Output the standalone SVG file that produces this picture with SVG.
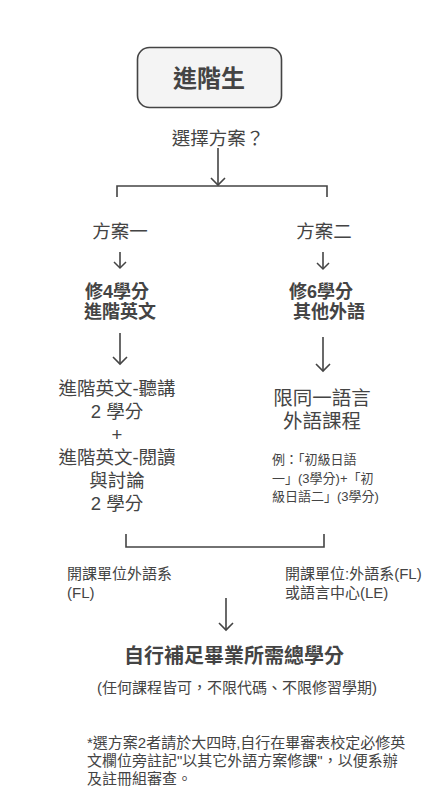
<svg xmlns="http://www.w3.org/2000/svg" width="438" height="797" viewBox="0 0 438 797">
<style>
text{font-family:"Liberation Sans","Noto Sans CJK TC","Noto Sans CJK SC",sans-serif;fill:#444;}
.c{text-anchor:middle;}
.b{font-weight:bold;}
.ln{stroke:#444;stroke-width:1.6;fill:none;}
</style>
<defs>
<marker id="ah" markerUnits="userSpaceOnUse" viewBox="-10 -10 20 20" refX="0" refY="0" markerWidth="20" markerHeight="20" orient="auto" overflow="visible">
<path d="M-7,-7 L0,0 L-7,7" fill="none" stroke="#444" stroke-width="1.6"/>
</marker>
<marker id="ahs" markerUnits="userSpaceOnUse" viewBox="-10 -10 20 20" refX="0" refY="0" markerWidth="20" markerHeight="20" orient="auto" overflow="visible">
<path d="M-6,-6 L0,0 L-6,6" fill="none" stroke="#444" stroke-width="1.5"/>
</marker>
</defs>
<rect width="438" height="797" fill="#fff"/>
<g id="connectors">
<line class="ln" x1="218" y1="148" x2="218" y2="185" marker-end="url(#ah)"/>
<path class="ln" d="M117,197 V186 H327 V197"/>
<line class="ln" x1="120" y1="252" x2="120" y2="268" marker-end="url(#ahs)"/>
<line class="ln" x1="323" y1="252" x2="323" y2="269" marker-end="url(#ahs)"/>
<line class="ln" x1="120" y1="333" x2="120" y2="364" marker-end="url(#ah)"/>
<line class="ln" x1="323" y1="337" x2="323" y2="371" marker-end="url(#ah)"/>
<path class="ln" d="M126,534 V547 H324 V534"/>
<line class="ln" x1="226" y1="598" x2="226" y2="630" marker-end="url(#ah)"/>
</g>
<g id="start">
<rect x="137.5" y="47.5" width="144" height="60" rx="12" fill="#f4f4f4" stroke="#444" stroke-width="1.6"/>
<text class="c b" x="209" y="87" font-size="24">進階生</text>
</g>
<g id="choose"><text class="c" x="218" y="144.5" font-size="18.5">選擇方案？</text></g>
<g id="plan1"><text class="c" x="120" y="238" font-size="18.5">方案一</text></g>
<g id="plan2"><text class="c" x="324" y="238" font-size="18.5">方案二</text></g>
<g id="plan1-req">
<text class="c b" font-size="18"><tspan x="117" y="297.5">修4學分</tspan><tspan x="120" y="318">進階英文</tspan></text>
</g>
<g id="plan2-req">
<text class="c b" font-size="18"><tspan x="321" y="297.5">修6學分</tspan><tspan x="329" y="318">其他外語</tspan></text>
</g>
<g id="plan1-courses">
<text class="c" font-size="18.5"><tspan x="117" y="395">進階英文-聽講</tspan><tspan x="117" y="418">2 學分</tspan><tspan x="117" y="441">+</tspan><tspan x="117" y="464">進階英文-閱讀</tspan><tspan x="117" y="487">與討論</tspan><tspan x="117" y="510">2 學分</tspan></text>
</g>
<g id="plan2-courses">
<text class="c" font-size="19.5"><tspan x="322" y="405">限同一語言</tspan><tspan x="322" y="428">外語課程</tspan></text>
<text font-size="13"><tspan x="272" y="464">例：「初級日語</tspan><tspan x="272" y="482.5">一」(3學分)+「初</tspan><tspan x="272" y="501">級日語二」(3學分)</tspan></text>
</g>
<g id="unit1">
<text font-size="15"><tspan x="67" y="578.5">開課單位外語系</tspan><tspan x="67" y="597.5">(FL)</tspan></text>
</g>
<g id="unit2">
<text font-size="15"><tspan x="285" y="578.5">開課單位:外語系(FL)</tspan><tspan x="285" y="597.5">或語言中心(LE)</tspan></text>
</g>
<g id="final">
<text class="c b" x="234" y="662.5" font-size="20">自行補足畢業所需總學分</text>
<text class="c" x="237" y="692.5" font-size="15">(任何課程皆可，不限代碼、不限修習學期)</text>
</g>
<g id="note">
<text font-size="15"><tspan x="87" y="747.5">*選方案2者請於大四時,自行在畢審表校定必修英</tspan><tspan x="87" y="765.5">文欄位旁註記"以其它外語方案修課"，以便系辦</tspan><tspan x="87" y="783.5">及註冊組審查。</tspan></text>
</g>
</svg>
